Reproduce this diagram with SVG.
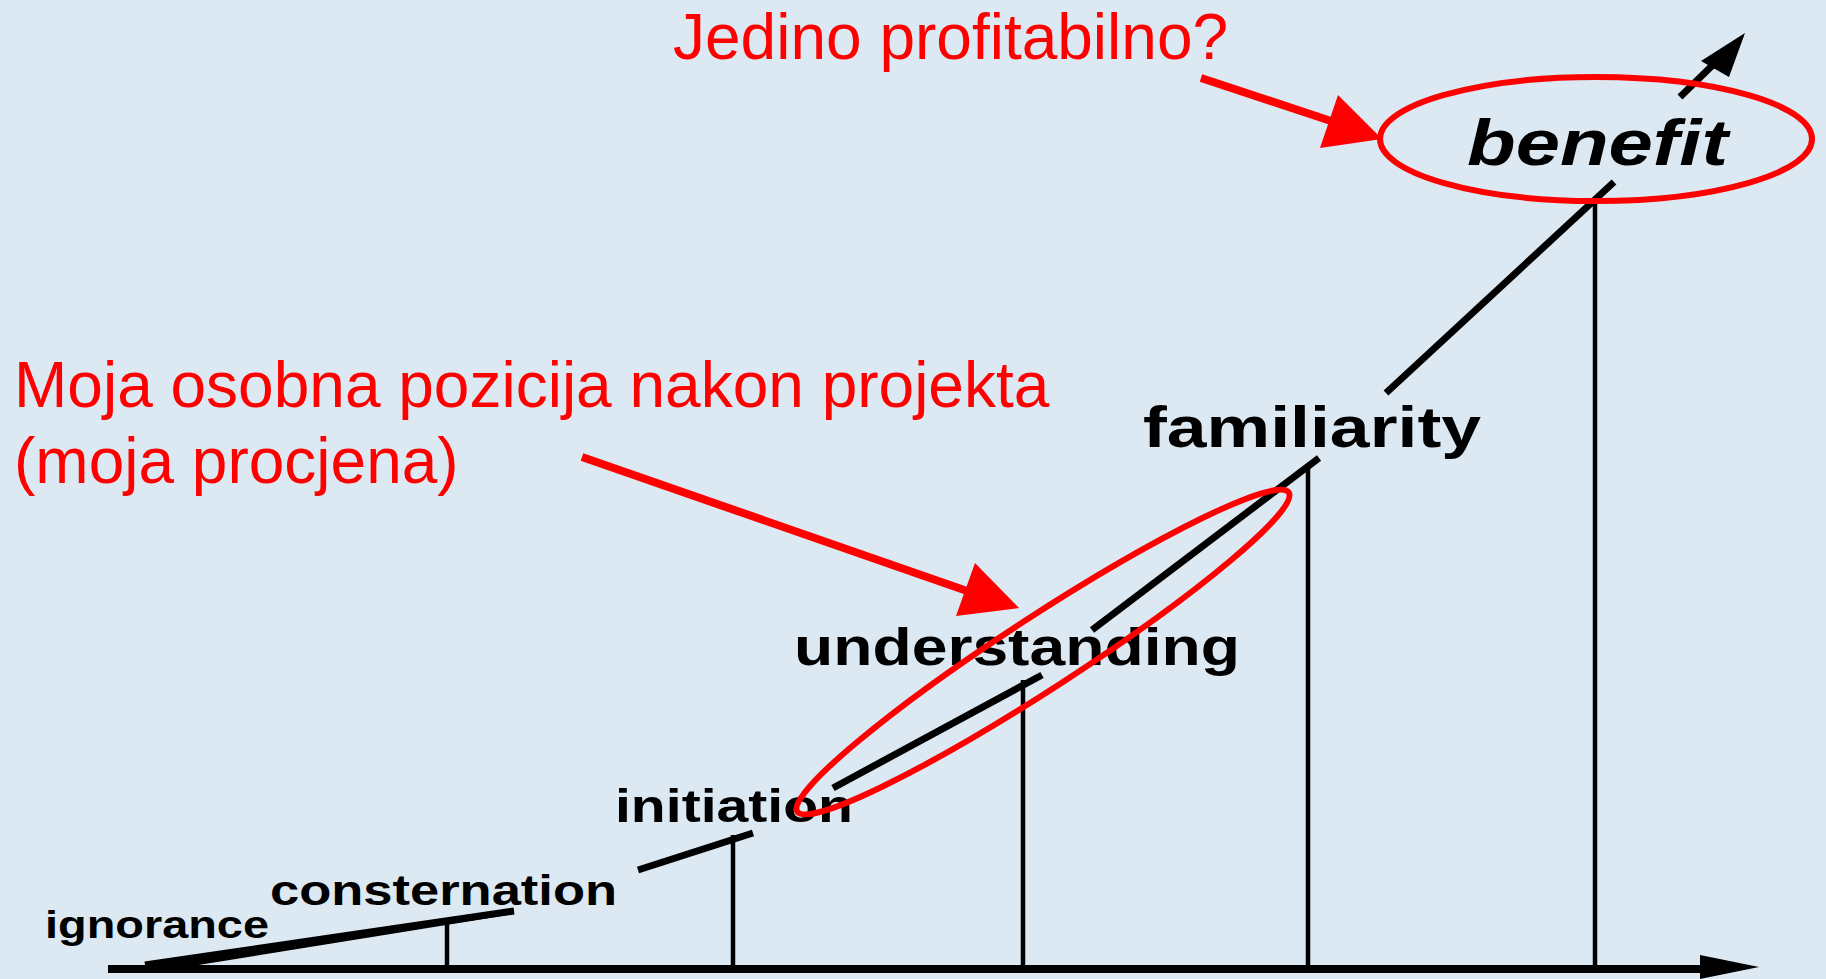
<svg xmlns="http://www.w3.org/2000/svg" width="1826" height="979" viewBox="0 0 1826 979">
  <style>
    .lbl { font-family: "Liberation Sans", Arial, sans-serif; font-weight: bold; fill: #000; }
    .red { font-family: "Liberation Sans", Arial, sans-serif; fill: #ff0000; font-size: 64px; }
    .seg { stroke: #000; stroke-width: 7; fill: none; stroke-linecap: butt; }
    .vert { stroke: #000; stroke-width: 4.5; fill: none; }
    .ring { stroke: #ff0000; stroke-width: 6; fill: none; }
    .rarrow { stroke: #ff0000; stroke-width: 8; fill: none; }
  </style>
  <rect x="0" y="0" width="1826" height="979" fill="#dce9f3"/>

  <g id="connectors">
    <line x1="108" y1="969" x2="1705" y2="969" stroke="#000" stroke-width="8"/>
    <polygon points="1700,955 1759,967 1700,979" fill="#000"/>
    <line class="vert" x1="447" y1="920" x2="447" y2="969"/>
    <line class="vert" x1="733" y1="835" x2="733" y2="969"/>
    <line class="vert" x1="1023" y1="680" x2="1023" y2="969"/>
    <line class="vert" x1="1308" y1="464" x2="1308" y2="969"/>
    <line class="vert" x1="1595" y1="198" x2="1595" y2="969"/>
    <polygon points="145,967 514,909 514,914 180,968" fill="#000"/>
    <line class="seg" x1="145" y1="965" x2="514" y2="911"/>
    <line class="seg" x1="638" y1="870" x2="753" y2="833"/>
    <line class="seg" x1="833" y1="788" x2="1042" y2="675"/>
    <line class="seg" x1="1092" y1="630" x2="1319" y2="458"/>
    <line class="seg" x1="1386" y1="393" x2="1614" y2="182"/>
    <line class="seg" x1="1680" y1="97" x2="1722" y2="56"/>
    <polygon points="1745,33 1729,77 1701,61" fill="#000"/>
  </g>

  <g id="ignorance"><text class="lbl" x="45" y="938" font-size="38" textLength="224" lengthAdjust="spacingAndGlyphs">ignorance</text></g>
  <g id="consternation"><text class="lbl" x="270" y="905" font-size="42" textLength="347" lengthAdjust="spacingAndGlyphs">consternation</text></g>
  <g id="initiation"><text class="lbl" x="615" y="822" font-size="47" textLength="238" lengthAdjust="spacingAndGlyphs">initiation</text></g>
  <g id="understanding"><text class="lbl" x="794" y="665" font-size="51" textLength="446" lengthAdjust="spacingAndGlyphs">understanding</text></g>
  <g id="familiarity"><text class="lbl" x="1143" y="447" font-size="57" textLength="338" lengthAdjust="spacingAndGlyphs">familiarity</text></g>
  <g id="benefit"><text class="lbl" x="1467" y="165" font-size="65" font-style="italic" textLength="261" lengthAdjust="spacingAndGlyphs">benefit</text></g>

  <g id="highlight-benefit"><ellipse class="ring" cx="1596" cy="139" rx="216" ry="62"/></g>
  <g id="highlight-position"><ellipse class="ring" cx="1043" cy="652" rx="293" ry="36" transform="rotate(-33 1043 652)"/></g>

  <g id="note-profit">
    <text class="red" x="673" y="59" font-size="63">Jedino profitabilno?</text>
  </g>
  <g id="note-position">
    <text class="red" x="14" y="407">Moja osobna pozicija nakon projekta</text>
    <text class="red" x="14" y="483">(moja procjena)</text>
  </g>
  <g id="red-arrows">
    <line class="rarrow" x1="1201" y1="78" x2="1340" y2="124"/>
    <polygon points="1338,95 1382,139 1320,148" fill="#ff0000"/>
    <line class="rarrow" x1="582" y1="457" x2="970" y2="592"/>
    <polygon points="975,563 1019,608 956,616" fill="#ff0000"/>
  </g>
</svg>
